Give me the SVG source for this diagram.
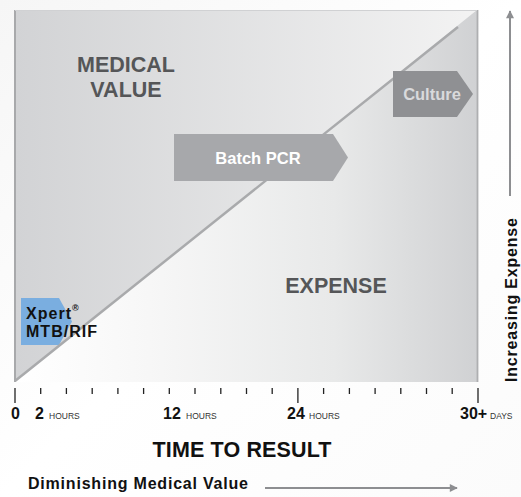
<svg xmlns="http://www.w3.org/2000/svg" width="521" height="497" viewBox="0 0 521 497">
<defs>
<linearGradient id="bg" x1="0" y1="0" x2="1" y2="1">
<stop offset="0" stop-color="#f6f6f6"/>
<stop offset="0.5" stop-color="#ffffff"/>
<stop offset="1" stop-color="#fbfbfb"/>
</linearGradient>
<linearGradient id="upper" x1="0" y1="0" x2="1" y2="0">
<stop offset="0" stop-color="#d2d3d5"/>
<stop offset="1" stop-color="#f3f3f3"/>
</linearGradient>
<linearGradient id="lower" x1="0" y1="0" x2="1" y2="0">
<stop offset="0" stop-color="#ffffff"/>
<stop offset="0.29" stop-color="#f7f7f7"/>
<stop offset="0.69" stop-color="#e8e9e9"/>
<stop offset="1" stop-color="#d0d1d3"/>
</linearGradient>
<marker id="ah" viewBox="0 0 10 10" refX="9" refY="5" markerWidth="5" markerHeight="4" orient="auto" markerUnits="strokeWidth">
<path d="M0,0 L10,5 L0,10 z" fill="#8d8e91"/>
</marker>
<style>
text{font-family:"Liberation Sans",Arial,Helvetica,sans-serif;font-weight:bold}
.big{font-size:21.5px;fill:#555658;text-anchor:middle}
.box{font-size:16.5px}
.xp{font-size:16px;fill:#111}
.reg{font-size:9px;fill:#111}
.num{font-size:16px;fill:#111}
.unit{font-size:8.5px;font-weight:normal;fill:#333}
.tick{stroke:#222;stroke-width:1.3}
.axis{stroke:#8d8e91;stroke-width:2;fill:none}
</style>
</defs>
<rect x="0" y="0" width="521" height="497" fill="url(#bg)"/>
<g id="plot">
<rect x="15" y="10" width="463" height="372" fill="url(#upper)"/>
<polygon points="15,382 477,10 478,10 478,382" fill="url(#lower)"/>
<line x1="15" y1="10" x2="15" y2="382" stroke="#a8a9ab" stroke-width="2"/>
<line x1="477.5" y1="10" x2="477.5" y2="382" stroke="#aeafb1" stroke-width="1.8"/>
<line x1="15" y1="10.5" x2="477" y2="10.5" stroke="#d0d1d3" stroke-width="1"/>
</g>
<g id="region-labels">
<text class="big" x="126" y="72">MEDICAL</text>
<text class="big" x="126" y="97">VALUE</text>
<text class="big" x="336" y="293">EXPENSE</text>
</g>
<g id="node-xpert">
<polygon points="21,298 59,298 72,321.5 59,345 21,345" fill="#7aaee0"/>
</g>
<g id="connectors">
<line x1="15" y1="381" x2="458" y2="27" stroke="#a9aaac" stroke-width="2.5"/>
<line class="axis" x1="510" y1="196" x2="510" y2="11" marker-end="url(#ah)"/>
<line class="axis" x1="265" y1="488" x2="457" y2="488" marker-end="url(#ah)"/>
</g>
<g id="node-xpert-label">
<text class="xp" x="26" y="319" textLength="45">Xpert</text>
<text class="reg" x="72" y="311">®</text>
<text class="xp" x="26" y="337" textLength="71">MTB/RIF</text>
</g>
<g id="node-batch-pcr">
<polygon points="174,134 333,134 348,157.5 333,181 174,181" fill="#a7a8ab"/>
<text class="box" x="258" y="164" fill="#ffffff" text-anchor="middle">Batch PCR</text>
</g>
<g id="node-culture">
<polygon points="393,71 457,71 473,94 457,117 393,117" fill="#8f9093"/>
<text class="box" x="432" y="100" fill="#d9dadc" text-anchor="middle">Culture</text>
</g>
<g id="axis-ticks">
<line class="tick" x1="15" y1="388" x2="15" y2="403"/>
<line class="tick" x1="40.7" y1="388" x2="40.7" y2="394"/>
<line class="tick" x1="66.4" y1="388" x2="66.4" y2="394"/>
<line class="tick" x1="92.2" y1="388" x2="92.2" y2="394"/>
<line class="tick" x1="117.9" y1="388" x2="117.9" y2="394"/>
<line class="tick" x1="143.6" y1="388" x2="143.6" y2="394"/>
<line class="tick" x1="169.3" y1="388" x2="169.3" y2="394"/>
<line class="tick" x1="195" y1="388" x2="195" y2="394"/>
<line class="tick" x1="220.8" y1="388" x2="220.8" y2="394"/>
<line class="tick" x1="246.5" y1="388" x2="246.5" y2="394"/>
<line class="tick" x1="272.2" y1="388" x2="272.2" y2="394"/>
<line class="tick" x1="297.9" y1="388" x2="297.9" y2="403"/>
<line class="tick" x1="323.6" y1="388" x2="323.6" y2="394"/>
<line class="tick" x1="349.4" y1="388" x2="349.4" y2="394"/>
<line class="tick" x1="375.1" y1="388" x2="375.1" y2="394"/>
<line class="tick" x1="400.8" y1="388" x2="400.8" y2="394"/>
<line class="tick" x1="426.5" y1="388" x2="426.5" y2="394"/>
<line class="tick" x1="452.2" y1="388" x2="452.2" y2="394"/>
<line class="tick" x1="478" y1="388" x2="478" y2="403"/>
</g>
<g id="axis-labels">
<text class="num" x="11" y="419">0</text>
<text class="num" x="35" y="419">2</text>
<text class="unit" x="49" y="419">HOURS</text>
<text class="num" x="163" y="419">12</text>
<text class="unit" x="186" y="419">HOURS</text>
<text class="num" x="287" y="419">24</text>
<text class="unit" x="309" y="419">HOURS</text>
<text class="num" x="460" y="419">30+</text>
<text class="unit" x="490" y="419">DAYS</text>
<text x="242" y="457" font-size="21.5" fill="#111" text-anchor="middle" textLength="179">TIME TO RESULT</text>
<text x="28" y="489" font-size="16" fill="#111" textLength="220">Diminishing Medical Value</text>
<text transform="translate(517,300) rotate(-90)" font-size="16" fill="#111" text-anchor="middle" textLength="164">Increasing Expense</text>
</g>
</svg>
